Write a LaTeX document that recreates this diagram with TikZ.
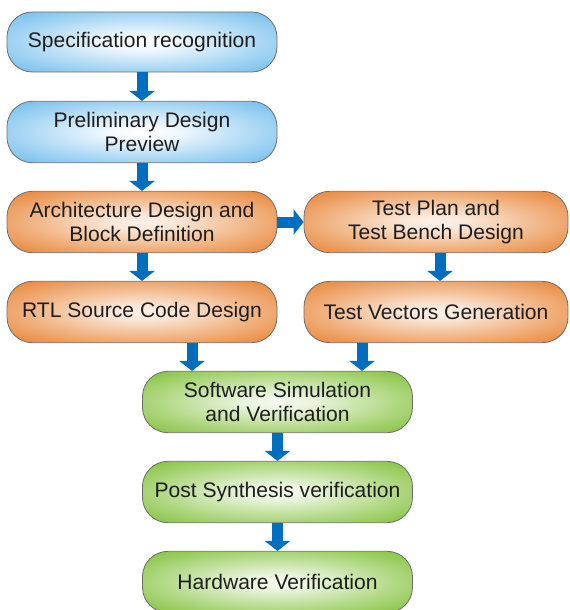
\documentclass[tikz,border=0pt]{standalone}
\usepackage{fontspec}
\setmainfont{Liberation Sans}
\usetikzlibrary{arrows.meta}

\definecolor{stepblue}{RGB}{100,183,235}
\definecolor{steporange}{RGB}{230,122,36}
\definecolor{stepgreen}{RGB}{120,188,42}
\definecolor{flowarrow}{RGB}{0,110,190}

\pgfdeclareradialshading{bluefade}{\pgfpoint{0bp}{0bp}}{color(0bp)=(white); color(6bp)=(white!92!stepblue); color(22bp)=(white!45!stepblue); color(38bp)=(stepblue); color(100bp)=(stepblue)}
\pgfdeclareradialshading{orangefade}{\pgfpoint{0bp}{0bp}}{color(0bp)=(white!90!steporange); color(6bp)=(white!82!steporange); color(22bp)=(white!40!steporange); color(38bp)=(steporange); color(100bp)=(steporange)}
\pgfdeclareradialshading{greenfade}{\pgfpoint{0bp}{0bp}}{color(0bp)=(white!92!stepgreen); color(6bp)=(white!85!stepgreen); color(22bp)=(white!42!stepgreen); color(38bp)=(stepgreen); color(100bp)=(stepgreen)}

\tikzset{every picture/.style={line width=0.75pt}}
\tikzset{
  stagebox/.style={draw={rgb, 255:red, 110; green, 110; blue, 110 }, line width=0.6pt, rounded corners=19pt,
    minimum width=202.5pt, minimum height=46pt, align=center, text={rgb, 255:red, 30; green, 30; blue, 30 },
    font=\fontsize{15.8}{18}\selectfont},
  bluebox/.style={stagebox, shading=bluefade},
  orangebox/.style={stagebox, shading=orangefade},
  greenbox/.style={stagebox, shading=greenfade},
  flow/.style={draw=flowarrow, line width=8.25pt, -{Triangle[width=18.75pt,length=7.5pt]}}
}

\begin{document}
\begin{tikzpicture}[x=0.75pt,y=0.75pt,yscale=-1,xscale=1]
\useasboundingbox (0,0) rectangle (570,610);
\clip (0,0) rectangle (570,610);

% Text Node
\draw (142,42) node [bluebox, minimum height=45pt] (spec) {Specification recognition};
% Text Node
\draw (142,132) node [bluebox] (prelim) {Preliminary Design\\Preview};
% Text Node
\draw (142,222) node [orangebox] (arch) {Architecture Design and\\Block Definition};
% Text Node
\draw (436,222) node [orangebox, minimum width=198pt] (tplan) {Test Plan and\\Test Bench Design};
% Text Node
\draw (142,312) node [orangebox] (rtl) {RTL Source Code Design};
% Text Node
\draw (436,312) node [orangebox, minimum width=198pt] (tvec) {Test Vectors Generation};
% Text Node
\draw (277.5,402) node [greenbox] (swsim) {Software Simulation\\and Verification};
% Text Node
\draw (277.5,492) node [greenbox] (postsyn) {Post Synthesis verification};
% Text Node
\draw (277.5,582) node [greenbox] (hwver) {Hardware Verification};

%Straight Lines [id:flow]
\draw [flow] (spec) -- (prelim);
\draw [flow] (prelim) -- (arch);
\draw [flow] (arch) -- (tplan);
\draw [flow] (arch) -- (rtl);
\draw [flow] ([xshift=3pt]tplan.south) -- ([xshift=3pt]tplan.south |- tvec.north);
\draw [flow] ([xshift=37.5pt]rtl.south) -- ([xshift=37.5pt]rtl.south |- swsim.north);
\draw [flow] ([xshift=-55.5pt]tvec.south) -- ([xshift=-55.5pt]tvec.south |- swsim.north);
\draw [flow] (swsim) -- (postsyn);
\draw [flow] (postsyn) -- (hwver);

\end{tikzpicture}
\end{document}
